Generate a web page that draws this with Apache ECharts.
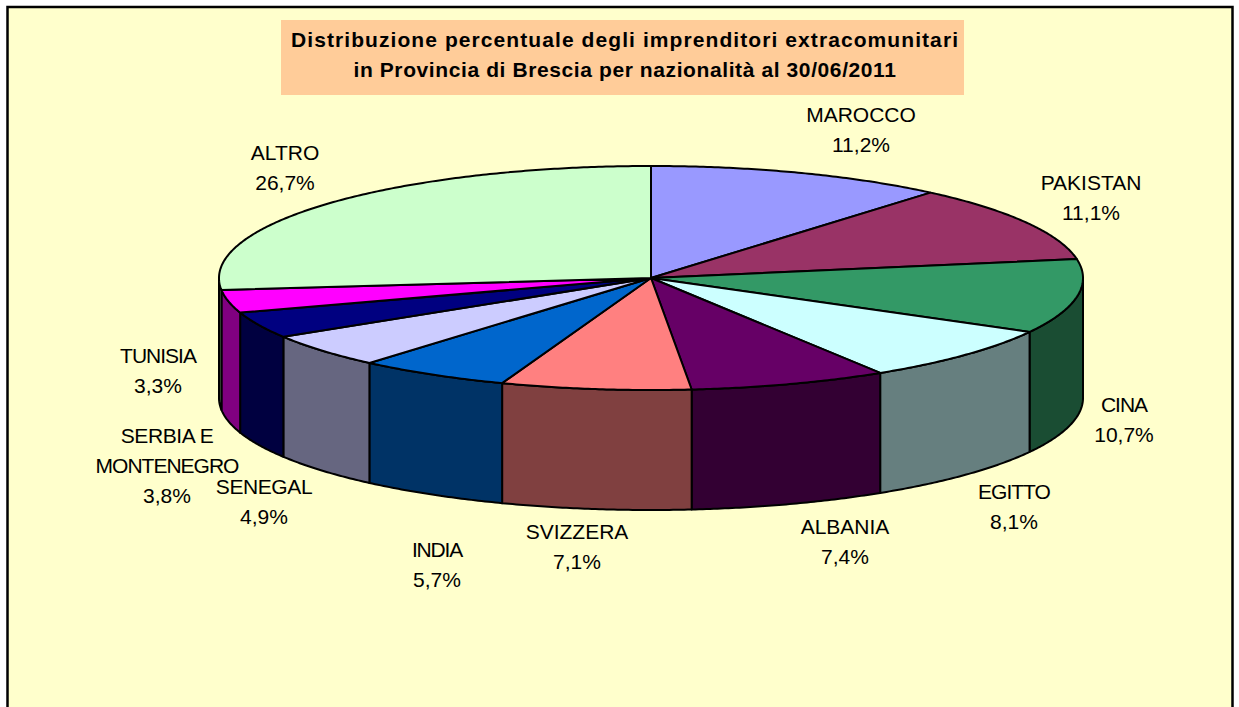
<!DOCTYPE html>
<html>
<head>
<meta charset="utf-8">
<style>html,body{margin:0;padding:0;background:#fff}#c{width:1239px;height:707px}</style>
<script src="https://cdn.jsdelivr.net/npm/echarts@6/dist/echarts.min.js"></script>
</head>
<body>
<div id="c"></div>
<script>
var categories = ['MAROCCO','PAKISTAN','CINA','EGITTO','ALBANIA','SVIZZERA','INDIA','SENEGAL','SERBIA E\nMONTENEGRO','TUNISIA','ALTRO'];
var shares = [11.2,11.1,10.7,8.1,7.4,7.1,5.7,4.9,3.8,3.3,26.7];
var topColors = ['#9999FF','#993366','#339966','#CCFFFF','#660066','#FF8080','#0066CC','#CCCCFF','#000080','#FF00FF','#CCFFCC'];
var wallColors = ['#4D4D80','#4D1A33','#1A4D33','#667F7F','#330033','#804040','#003366','#666680','#000040','#800080','#668066'];
var titleText = 'Distribuzione percentuale degli imprenditori extracomunitari\nin Provincia di Brescia per nazionalità al 30/06/2011';

// layout of the tilted pie
var cx = 651, cy = 278, rx = 432, ry = 112, depth = 120;
// label centres, as offsets from the pie centre
var labelOffsets = [[210,-149],[440,-81],[473,141],[363,228],[194,263],[-74,268],[-214,286],[-387,223],[-484,187],[-493,92],[-366,-111]];
// tracking (px) of text lines, to match the reference's condensed or spaced-out glyphs
var tracking = {
  'Distribuzione': 1.08, 'in Provincia': 0.6,
  'MONTENEGRO': -1, 'TUNISIA': -1, 'CINA': -1, 'SERBIA E': -0.4, 'INDIA': -1.2, 'EGITTO': -1, 'SENEGAL': -0.4
};

var total = shares.reduce(function(a,b){return a+b;},0);
function startAngle(i){ var s=0; for(var k=0;k<i;k++) s+=shares[k]; return s/total*360; }
function pt(deg,dy){ var a=deg*Math.PI/180; return [cx+rx*Math.sin(a), cy-ry*Math.cos(a)+(dy||0)]; }
function arc(a0,a1,dy){ var pts=[], n=Math.max(2,Math.ceil((a1-a0)*2)); for(var j=0;j<=n;j++) pts.push(pt(a0+(a1-a0)*j/n,dy)); return pts; }

function renderItem(params, api){
  var i = params.dataIndex, v = api.value(0);
  var a0 = startAngle(i), a1 = a0 + v/total*360;
  var children = [];
  var w0 = Math.max(a0,90), w1 = Math.min(a1,270);
  if (w1 > w0) {
    children.push({type:'polygon', z2:1,
      shape:{points: arc(w0,w1,0).concat(arc(w0,w1,depth).reverse())},
      style:{fill:wallColors[i], stroke:'#000', lineWidth:2, lineJoin:'round'}});
  }
  children.push({type:'polygon', z2:2,
    shape:{points: [[cx,cy]].concat(arc(a0,a1,0))},
    style:{fill:topColors[i], stroke:'#000', lineWidth:2, lineJoin:'round'}});
  children.push({type:'text', z2:3,
    style:{x:cx+labelOffsets[i][0], y:cy+labelOffsets[i][1],
      text: categories[i]+'\n'+v.toFixed(1).replace('.',',')+'%',
      fill:'#000', font:'21px "Liberation Sans", Arial, sans-serif',
      lineHeight:30, align:'center', verticalAlign:'middle'}});
  return {type:'group', children:children};
}

var chart = echarts.init(document.getElementById('c'), null, {renderer:'svg'});
function applyTracking(){
  var nodes = document.querySelectorAll('#c svg text');
  for (var n=0;n<nodes.length;n++){
    var t = nodes[n].textContent;
    for (var key in tracking){
      if (t.indexOf(key)===0) nodes[n].style.letterSpacing = tracking[key]+'px';
    }
  }
}
chart.on('finished', applyTracking);
chart.setOption({
  animation:false,
  backgroundColor:'#FFFFFF',
  graphic:[
    {type:'rect', z:-10, shape:{x:7.5,y:7,width:1225,height:720},
     style:{fill:'#FFFFCC',stroke:'#000',lineWidth:2.5}},
    {type:'rect', z:-9, shape:{x:281,y:20,width:683,height:75},
     style:{fill:'#FFCC99'}}
  ],
  title:{
    text:titleText, left:625, textAlign:'center', top:24, padding:0,
    textStyle:{fontFamily:'"Liberation Sans", Arial, sans-serif', fontWeight:'bold', fontSize:21, lineHeight:30.5, color:'#000', align:'center'}
  },
  series:[{
    type:'custom', coordinateSystem:'none', renderItem:renderItem, silent:true,
    data:categories.map(function(n,i){return {name:n, value:[shares[i]]};})
  }]
});
applyTracking();
</script>
</body>
</html>
